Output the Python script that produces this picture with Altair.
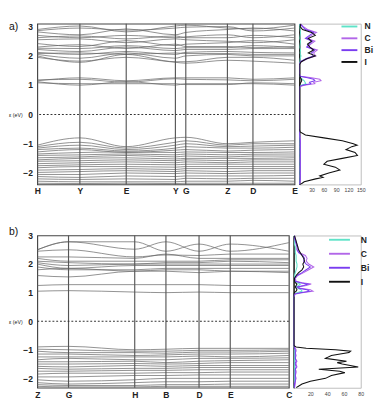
import altair as alt
import pandas as pd

# ---------------- panel a: band structure ----------------
ka_names = ["H", "Y", "E", "Y", "G", "Z", "D", "E"]
ka_pos = [0, 45, 94, 146, 157, 201, 228, 272]
bands_a = [
    [2.90, 3.02, 2.82, 3.02, 3.05, 2.95, 2.92, 3.05],
    [2.86, 2.95, 2.88, 2.95, 2.98, 3.00, 2.85, 2.95],
    [2.82, 2.72, 2.92, 2.72, 2.80, 2.90, 2.95, 2.85],
    [2.70, 2.62, 2.70, 2.62, 2.65, 2.72, 2.62, 2.72],
    [2.62, 2.68, 2.58, 2.68, 2.62, 2.62, 2.70, 2.62],
    [2.55, 2.58, 2.45, 2.58, 2.55, 2.50, 2.45, 2.55],
    [2.42, 2.32, 2.52, 2.35, 2.40, 2.45, 2.52, 2.40],
    [2.30, 2.38, 2.25, 2.40, 2.32, 2.32, 2.28, 2.32],
    [2.26, 2.25, 2.35, 2.25, 2.28, 2.28, 2.35, 2.28],
    [2.22, 2.15, 2.30, 2.18, 2.22, 2.22, 2.25, 2.25],
    [2.12, 2.05, 2.15, 2.05, 2.12, 2.15, 2.12, 2.10],
    [2.08, 2.10, 2.05, 2.10, 2.08, 2.08, 2.05, 2.05],
    [2.05, 1.92, 2.10, 1.92, 2.00, 2.05, 2.00, 2.00],
    [2.00, 1.78, 2.05, 1.80, 1.80, 1.95, 1.95, 1.85],
    [1.95, 1.82, 1.95, 1.78, 1.75, 1.85, 1.82, 1.75],
    [1.15, 1.25, 1.15, 1.25, 1.25, 1.25, 1.20, 1.25],
    [1.18, 1.20, 1.10, 1.22, 1.20, 1.18, 1.15, 1.20],
    [1.12, 1.00, 1.12, 1.00, 1.05, 1.05, 1.05, 1.00],
    [1.08, 1.05, 1.05, 1.05, 1.02, 1.02, 1.08, 1.05],
    [-1.05, -0.80, -1.10, -0.80, -0.78, -1.00, -0.95, -0.90],
    [-1.10, -0.95, -1.15, -0.95, -0.90, -1.05, -1.00, -1.00],
    [-1.15, -1.05, -1.20, -1.05, -1.00, -1.10, -1.08, -1.05],
    [-1.20, -1.15, -1.25, -1.15, -1.10, -1.15, -1.15, -1.12],
    [-1.28, -1.20, -1.30, -1.22, -1.20, -1.25, -1.22, -1.20],
    [-1.35, -1.30, -1.28, -1.30, -1.28, -1.30, -1.30, -1.28],
    [-1.40, -1.38, -1.35, -1.38, -1.35, -1.38, -1.36, -1.35],
    [-1.48, -1.45, -1.40, -1.45, -1.42, -1.45, -1.42, -1.42],
    [-1.55, -1.50, -1.48, -1.52, -1.50, -1.50, -1.50, -1.48],
    [-1.60, -1.58, -1.55, -1.58, -1.55, -1.58, -1.55, -1.55],
    [-1.68, -1.65, -1.62, -1.65, -1.62, -1.65, -1.62, -1.62],
    [-1.75, -1.72, -1.70, -1.72, -1.70, -1.70, -1.70, -1.70],
    [-1.82, -1.78, -1.78, -1.80, -1.78, -1.78, -1.78, -1.78],
    [-1.90, -1.88, -1.85, -1.88, -1.85, -1.85, -1.85, -1.85],
    [-1.98, -1.95, -1.92, -1.95, -1.92, -1.95, -1.92, -1.92],
    [-2.05, -2.05, -2.00, -2.02, -2.00, -2.02, -2.00, -2.00],
    [-2.12, -2.15, -2.10, -2.12, -2.10, -2.10, -2.10, -2.08],
    [-2.20, -2.22, -2.20, -2.22, -2.18, -2.20, -2.18, -2.18],
    [-2.28, -2.30, -2.30, -2.30, -2.28, -2.28, -2.25, -2.28],
    [-2.35, -2.36, -2.35, -2.36, -2.35, -2.35, -2.35, -2.35],
]

# ---------------- panel b: band structure ----------------
kb_names = ["Z", "G", "H", "B", "D", "E", "C"]
kb_pos = [0, 33, 103, 136, 171, 204, 266]
bands_b = [
    [2.50, 2.78, 2.78, 2.45, 2.70, 2.45, 2.75],
    [2.50, 2.78, 2.52, 2.78, 2.45, 2.70, 2.45],
    [2.45, 2.50, 2.25, 2.32, 2.30, 2.35, 2.35],
    [2.25, 2.25, 2.20, 2.35, 2.20, 2.20, 2.20],
    [2.20, 2.10, 2.10, 2.10, 2.10, 2.15, 2.15],
    [2.10, 2.05, 2.00, 2.05, 2.05, 2.10, 2.05],
    [2.05, 1.95, 2.00, 2.00, 2.00, 2.00, 2.00],
    [2.00, 1.85, 1.95, 1.95, 1.95, 1.95, 1.95],
    [1.90, 1.80, 1.80, 1.85, 1.85, 1.85, 1.85],
    [1.80, 1.85, 1.75, 1.80, 1.80, 1.75, 1.75],
    [1.60, 1.55, 1.75, 1.75, 1.70, 1.75, 1.70],
    [1.25, 1.28, 1.28, 1.28, 1.28, 1.25, 1.25],
    [1.05, 1.07, 1.02, 1.00, 1.02, 1.00, 1.00],
    [-0.90, -0.88, -1.00, -0.98, -0.95, -0.95, -0.95],
    [-0.98, -1.00, -1.05, -1.05, -1.02, -1.02, -1.00],
    [-1.05, -1.10, -1.10, -1.12, -1.08, -1.08, -1.05],
    [-1.15, -1.15, -1.20, -1.18, -1.15, -1.15, -1.12],
    [-1.25, -1.25, -1.25, -1.25, -1.22, -1.25, -1.20],
    [-1.35, -1.30, -1.35, -1.35, -1.30, -1.30, -1.28],
    [-1.42, -1.42, -1.40, -1.45, -1.40, -1.38, -1.35],
    [-1.50, -1.50, -1.48, -1.50, -1.48, -1.45, -1.45],
    [-1.58, -1.60, -1.55, -1.58, -1.55, -1.55, -1.55],
    [-1.65, -1.68, -1.65, -1.65, -1.62, -1.62, -1.62],
    [-1.75, -1.75, -1.72, -1.72, -1.70, -1.70, -1.70],
    [-1.85, -1.82, -1.82, -1.80, -1.80, -1.78, -1.78],
    [-1.95, -1.95, -1.90, -1.90, -1.88, -1.88, -1.88],
    [-2.05, -2.10, -2.05, -2.00, -2.00, -2.00, -2.00],
    [-2.15, -2.20, -2.15, -2.12, -2.12, -2.10, -2.10],
    [-2.22, -2.25, -2.25, -2.22, -2.22, -2.20, -2.20],
    [-2.28, -2.30, -2.30, -2.28, -2.28, -2.28, -2.28],
]

# ---------------- DOS, panel a ----------------
species = ["N", "C", "Bi", "I"]
dos_a_E = [3.1, 3.0, 2.9, 2.8, 2.7, 2.6, 2.5, 2.4, 2.3, 2.2, 2.1, 2.0, 1.9, 1.8, 1.7,
           1.4, 1.3, 1.25, 1.2, 1.15, 1.1, 1.05, 1.0, 0.95, 0.8,
           -0.5, -0.6, -0.7, -0.8, -0.9, -1.0, -1.05, -1.1, -1.2, -1.3, -1.4, -1.5,
           -1.6, -1.7, -1.8, -1.9, -2.0, -2.1, -2.15, -2.2, -2.3, -2.4]
dos_a_N = [0, 1, 2, 3, 2, 1, 3, 2, 1, 3, 2, 4, 2, 1, 0,
           0, 1, 4, 8, 12, 14, 16, 5, 1, 0,
           0, 0, 0, 1, 1, 1, 1, 1, 1, 1, 1, 1,
           1, 1, 1, 1, 1, 1, 1, 1, 1, 0]
dos_a_C = [2, 10, 20, 42, 30, 18, 38, 28, 20, 44, 35, 40, 20, 4, 0,
           0, 3, 30, 50, 53, 35, 38, 12, 2, 0,
           0, 0, 1, 2, 3, 2, 3, 2, 3, 2, 3, 2,
           2, 3, 2, 2, 3, 2, 2, 3, 2, 1]
dos_a_Bi = [1, 8, 15, 35, 25, 15, 32, 24, 18, 38, 30, 34, 16, 3, 0,
            0, 2, 20, 35, 38, 25, 28, 8, 1, 0,
            0, 0, 1, 1, 2, 2, 2, 2, 2, 2, 2, 2,
            2, 2, 2, 2, 2, 2, 2, 2, 1, 1]
dos_a_I = [4, 2, 8, 30, 39, 22, 30, 20, 26, 35, 22, 39, 18, 5, 0,
           0, 1, 3, 5, 6, 4, 2, 1, 0, 0,
           0, 2, 15, 60, 105, 132, 141, 128, 114, 136, 142, 105,
           68, 60, 88, 99, 72, 50, 58, 40, 12, 2]

# ---------------- DOS, panel b ----------------
dos_b_E = [3.0, 2.9, 2.8, 2.7, 2.6, 2.5, 2.4, 2.3, 2.2, 2.1, 2.0, 1.9, 1.8, 1.7, 1.6,
           1.5, 1.4, 1.35, 1.3, 1.25, 1.2, 1.15, 1.1, 1.05, 1.0, 0.95, 0.85,
           -0.85, -0.9, -0.95, -1.0, -1.05, -1.1, -1.2, -1.3, -1.4, -1.45, -1.5,
           -1.6, -1.68, -1.75, -1.8, -1.9, -2.0, -2.1, -2.2, -2.33]
dos_b_N = [0, 1, 1, 1, 2, 2, 2, 3, 3, 3, 4, 4, 3, 2, 1,
           1, 1, 4, 8, 6, 3, 5, 9, 10, 4, 1, 0,
           0, 0, 1, 1, 1, 1, 1, 1, 1, 1, 1,
           1, 1, 1, 1, 1, 1, 1, 1, 0]
dos_b_C = [1, 2, 3, 4, 5, 5, 7, 14, 16, 15, 18, 24, 18, 12, 5,
           2, 3, 10, 21, 15, 5, 8, 20, 23, 10, 2, 0,
           0, 1, 2, 3, 3, 2, 3, 2, 4, 3, 3,
           4, 2, 3, 3, 2, 3, 2, 2, 1]
dos_b_Bi = [1, 1, 2, 3, 4, 4, 6, 11, 13, 12, 15, 20, 15, 10, 4,
            1, 2, 8, 17, 12, 4, 6, 16, 19, 8, 1, 0,
            0, 1, 1, 2, 2, 2, 2, 2, 3, 2, 2,
            3, 2, 2, 2, 2, 2, 2, 1, 1]
dos_b_I = [1, 2, 3, 4, 5, 6, 8, 10, 12, 13, 11, 12, 10, 6, 3,
           1, 1, 2, 4, 3, 2, 3, 4, 3, 1, 0, 0,
           0, 3, 15, 50, 68, 66, 45, 38, 63, 52, 58,
           77, 30, 55, 61, 45, 38, 20, 10, 3]

colors = ["#5fe3c8", "#b266e8", "#7a3cf0", "#111111"]
FONT = "Liberation Sans"


def band_panel(names, pos, bands, ymin, ymax, w, h, tag, tag_y):
    rows = []
    for b, vals in enumerate(bands):
        for k, e in zip(pos, vals):
            rows.append({"band": b, "k": k, "E": e})
    df = pd.DataFrame(rows)
    lab = "{" + ",".join(f"'{p}':'{n}'" for p, n in zip(pos, names)) + "}[datum.value]"
    xs = alt.Scale(domain=[pos[0], pos[-1]], nice=False, zero=False)
    ys = alt.Scale(domain=[ymin, ymax], nice=False, zero=False)
    xax = alt.Axis(values=pos, labelExpr=lab, ticks=False, domain=False, grid=False,
                   labelFontSize=9, labelFontWeight="bold", labelColor="#222",
                   labelPadding=3, labelFlush=False, labelOverlap=False, title=None)
    yax = alt.Axis(values=[-2, -1, 0, 1, 2, 3], ticks=False, domain=False, grid=False,
                   labelFontSize=9, labelFontWeight="bold", labelColor="#222",
                   labelPadding=5, labelOverlap=False, labelFlush=False,
                   title="ε (eV)", titleAngle=0, titleAlign="right",
                   titleBaseline="middle", titleFontSize=5.5, titleFontWeight="normal",
                   titleX=-16, titleY=h * ymax / (ymax - ymin), titleColor="#222")
    lines = alt.Chart(df).mark_line(interpolate="monotone", strokeWidth=0.75,
                                    color="#666", clip=True).encode(
        x=alt.X("k:Q", scale=xs, axis=xax),
        y=alt.Y("E:Q", scale=ys, axis=yax),
        detail="band:N")
    rules = alt.Chart(pd.DataFrame({"k": pos[1:-1]})).mark_rule(
        color="#555", strokeWidth=1.2).encode(x=alt.X("k:Q", scale=xs, axis=xax))
    zero = alt.Chart(pd.DataFrame({"E": [0]})).mark_rule(
        color="#333", strokeWidth=1.2, strokeDash=[2, 2]).encode(
        y=alt.Y("E:Q", scale=ys, axis=yax))
    label = alt.Chart(pd.DataFrame({"t": [tag]})).mark_text(
        fontSize=11, align="left", baseline="middle", color="#111").encode(
        text="t:N", x=alt.value(-30), y=alt.value(tag_y))
    return alt.layer(lines, rules, zero, label).properties(
        width=w, height=h, view=alt.ViewBackground(stroke="#444", strokeWidth=1.2))


def dos_panel(E, series, xmax, xticks, ymin, ymax, w, h, lx, ly, path, ssize, loff, rpad):
    rows = []
    for s, vals in zip(species, series):
        for e, v in zip(E, vals):
            rows.append({"s": s, "E": e, "v": v})
    df = pd.DataFrame(rows)
    return alt.Chart(df).mark_line(strokeWidth=1.1, clip=True).encode(
        x=alt.X("v:Q", title=None, scale=alt.Scale(domain=[0, xmax], nice=False),
                axis=alt.Axis(values=xticks, ticks=False, domain=False, grid=False,
                              labelFontSize=5.5, labelColor="#444", labelPadding=4,
                              labelOverlap=False, labelFlush=False)),
        y=alt.Y("E:Q", title=None, scale=alt.Scale(domain=[ymin, ymax], nice=False, zero=False),
                axis=alt.Axis(labels=False, ticks=False, grid=False, domain=True,
                              domainColor="#222", domainWidth=1.6)),
        color=alt.Color("s:N", scale=alt.Scale(domain=species, range=colors),
                        legend=alt.Legend(orient="none", legendX=lx, legendY=ly, title=None,
                                          symbolType=path, symbolSize=ssize,
                                          symbolStrokeWidth=2, labelFontSize=9,
                                          labelFontWeight="bold", labelColor="#222",
                                          labelOffset=loff, rowPadding=rpad)),
        order=alt.Order("E:Q"),
    ).properties(width=w, height=h, view=alt.ViewBackground(stroke="#bbb", strokeWidth=1))


ya = (-2.39, 3.1)
yb = (-2.33, 3.0)
band_a = band_panel(ka_names, ka_pos, bands_a, ya[0], ya[1], 272, 170, "a)", 4)
band_b = band_panel(kb_names, kb_pos, bands_b, yb[0], yb[1], 266, 161, "b)", -4)
dos_a = dos_panel(dos_a_E, [dos_a_N, dos_a_C, dos_a_Bi, dos_a_I], 150,
                  [30, 60, 90, 120, 150], ya[0], ya[1], 65, 170,
                  46, -4, "M-1.4,0H1.4", 144, 9, 0.5)
dos_b = dos_panel(dos_b_E, [dos_b_N, dos_b_C, dos_b_Bi, dos_b_I], 80,
                  [20, 40, 60, 80], yb[0], yb[1], 71, 161,
                  41, -3, "M-1.7,0H1.7", 169, 15, 1.8)

row_a = alt.hconcat(band_a, dos_a, spacing=0).resolve_scale(color="independent")
row_b = alt.hconcat(band_b, dos_b, spacing=0).resolve_scale(color="independent")

chart = alt.vconcat(row_a, row_b, spacing=30).resolve_scale(
    color="independent").properties(
    padding={"left": 0, "top": 0, "right": 0, "bottom": 0}).configure(font=FONT)

chart.save("out.html", embed_options={"renderer": "svg", "actions": False})
